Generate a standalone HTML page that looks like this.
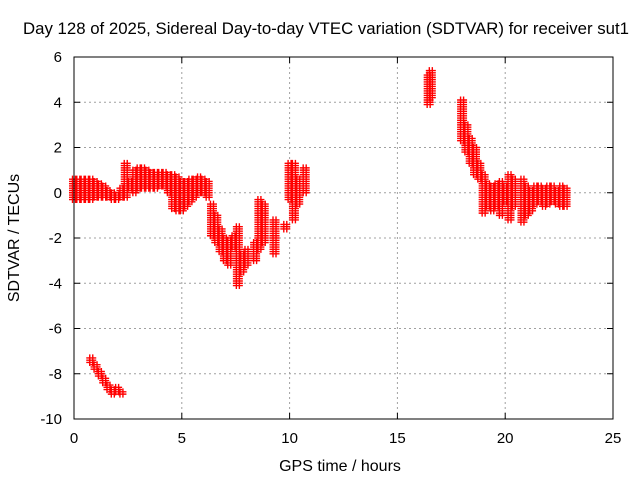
<!DOCTYPE html>
<html><head><meta charset="utf-8"><style>
body{margin:0;background:#fff}
svg text{font-family:"Liberation Sans",sans-serif;font-size:15px;fill:#000}
svg text.big{font-size:16px}
svg text.title{font-size:16.8px}
</style></head><body>
<svg id="c" width="640" height="480">
<rect width="640" height="480" fill="#fff"/>
<text class="title" x="326" y="34" text-anchor="middle">Day 128 of 2025, Sidereal Day-to-day VTEC variation (SDTVAR) for receiver sut1</text>
<text class="big" x="340" y="471" text-anchor="middle">GPS time / hours</text>
<text class="big" transform="translate(19,238) rotate(-90)" text-anchor="middle">SDTVAR / TECUs</text>
<g id="grid"></g><g id="ticks"></g><g id="marks"></g>
<rect x="74" y="57" width="539" height="362" fill="none" stroke="#000" stroke-width="1"/>
</svg>
<script>
const xTicks=[0,5,10,15,20,25];
const yTicks=[6,4,2,0,-2,-4,-6,-8,-10];
const times=[0,0.2,0.4,0.6,0.8,1.0,1.2,1.4,1.6,1.8,2.0,2.2,2.4,2.6,2.8,3.0,3.2,3.4,3.6,3.8,4.0,4.2,4.4,4.6,4.8,5.0,5.2,5.4,5.6,5.8,6.0,6.2,6.4,6.6,6.8,7.0,7.2,7.4,7.6,7.8,8.0,8.4,8.6,8.8,9.3,9.8,10.0,10.2,10.4,10.7,
0.8,1.0,1.2,1.4,1.6,1.8,2.0,2.2,
16.45,16.55,18.0,18.2,18.4,18.6,18.8,19.0,19.2,19.4,19.6,19.8,20.0,20.2,20.4,20.8,21.0,21.2,21.4,21.6,21.8,22.0,22.2,22.4,22.6,22.8];
const lows=[-0.3,-0.3,-0.3,-0.3,-0.3,-0.2,-0.2,-0.2,-0.2,-0.3,-0.3,-0.2,-0.2,0.2,0,0.2,0.2,0.2,0.2,0.2,0.3,0.3,0,-0.7,-0.8,-0.8,-0.6,-0.4,-0.2,0,0,-0.2,-1.9,-2.2,-2.6,-3.0,-3.2,-2.4,-4.1,-3.5,-3.2,-3.0,-2.5,-2.2,-2.7,-1.6,-0.3,-1.2,-0.5,0,
-7.5,-7.8,-8.1,-8.4,-8.7,-8.9,-8.8,-8.9,
3.9,4.2,2.3,1.8,1.3,0.8,0.6,-0.9,-0.6,-0.8,-0.6,-1.0,-0.4,-1.2,-0.6,-1.3,-1.0,-0.8,-0.5,-0.4,-0.6,-0.5,-0.4,-0.5,-0.6,-0.6];
const highs=[0.6,0.6,0.6,0.6,0.6,0.5,0.4,0.3,0.1,0,-0.1,0.2,1.3,0.5,1.0,1.1,1.1,1.0,0.9,0.9,0.9,0.9,0.8,0.8,0.7,0.5,0.5,0.6,0.6,0.7,0.6,0.5,-0.5,-1.0,-1.6,-2.0,-2.1,-1.9,-1.5,-2.7,-2.5,-2.2,-0.3,-0.5,-1.2,-1.4,1.3,1.3,0.6,1.1,
-7.3,-7.6,-7.9,-8.2,-8.5,-8.7,-8.6,-8.8,
5.2,5.4,4.1,3.0,2.4,2.0,1.3,0.8,0.4,0.3,0.4,0.5,0.3,0.8,0.6,0.6,0.3,0.1,0.3,0.3,0.2,0.3,0.3,0.1,0.3,0.2];
const X=h=>74+h*539/25, Y=v=>57+(6-v)*362/16;
const NS="http://www.w3.org/2000/svg";
function mk(t,a,p){const e=document.createElementNS(NS,t);for(const k in a)e.setAttribute(k,a[k]);p.appendChild(e);return e;}
const g=document.getElementById('grid'),tk=document.getElementById('ticks'),m=document.getElementById('marks');
xTicks.forEach(t=>{
 if(t>0&&t<25){const l=mk('line',{x1:X(t),x2:X(t),y1:57,y2:419,stroke:'#a0a0a0','stroke-dasharray':'2,3'},g);
 
 }
 mk('line',{x1:X(t),x2:X(t),y1:419,y2:413,stroke:'#000'},tk);mk('line',{x1:X(t),x2:X(t),y1:57,y2:63,stroke:'#000'},tk);
 const s=mk('text',{x:X(t),y:443,'text-anchor':'middle'},tk);s.textContent=t;
 
 
});
yTicks.forEach(t=>{
 if(t<6&&t>-10){const l=mk('line',{x1:74,x2:613,y1:Y(t),y2:Y(t),stroke:'#a0a0a0','stroke-dasharray':'2,3'},g);
 
 }
 mk('line',{x1:74,x2:80,y1:Y(t),y2:Y(t),stroke:'#000'},tk);mk('line',{x1:613,x2:607,y1:Y(t),y2:Y(t),stroke:'#000'},tk);
 const s=mk('text',{x:62,y:Y(t)+5,'text-anchor':'end'},tk);s.textContent=t;
 
 
});
let d='';
times.forEach((t,i)=>{
 const x=X(t);
 for(let v=lows[i];v<=highs[i]+1e-6;v+=0.1){
  const y=Y(v);
  for(const dx of [-1.5,1.5]){
   d+=`M${x+dx-3.5},${y}h7M${x+dx},${y-3.5}v7`;
  }
 }
});
const p=mk('path',{d:d,stroke:'#ff0000','stroke-width':'1.4',fill:'none'},m);


</script>
</body></html>
